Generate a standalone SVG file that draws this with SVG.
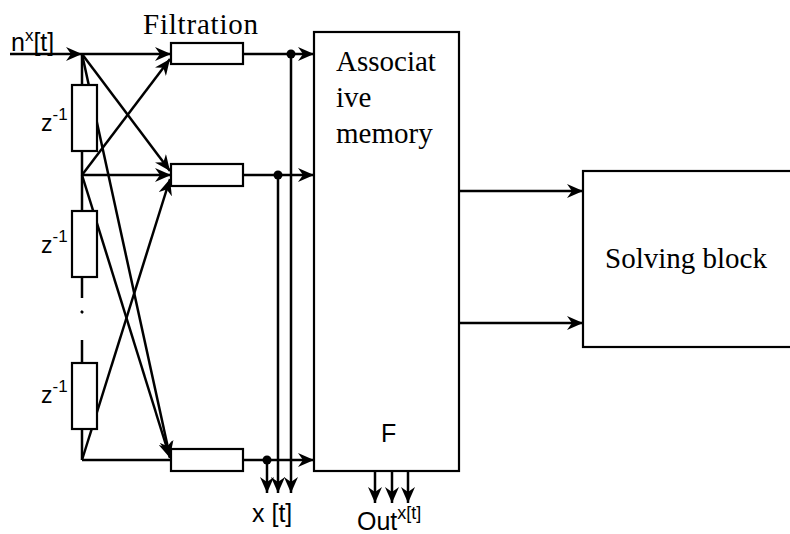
<svg xmlns="http://www.w3.org/2000/svg" width="790" height="534" viewBox="0 0 790 534">
<defs>
<marker id="ah" markerUnits="userSpaceOnUse" markerWidth="18" markerHeight="14" refX="16" refY="7" orient="auto" viewBox="0 0 18 14">
<path d="M0,0 L16,7 L0,14 L5,7 z" fill="#000"/>
</marker>
<style>
.ln{stroke:#000;stroke-width:2.5;fill:none}
.ar{stroke:#000;stroke-width:2.5;fill:none;marker-end:url(#ah)}
.bx{stroke:#000;stroke-width:2.2;fill:#fff}
.serif{font-family:"Liberation Serif","Times New Roman",serif;fill:#000}
.sans{font-family:"Liberation Sans",Arial,sans-serif;fill:#000}
</style>
</defs>
<rect width="790" height="534" fill="#fff"/>
<g id="connectors">
<line class="ar" x1="10" y1="54" x2="82" y2="54"/>
<line class="ln" x1="82" y1="54" x2="82" y2="298"/>
<line class="ln" x1="82" y1="340" x2="82" y2="460"/>
<line class="ln" x1="81" y1="311" x2="83" y2="313"/>
<line class="ar" x1="82" y1="54" x2="171" y2="54"/>
<line class="ar" x1="82" y1="54" x2="170" y2="171"/>
<line class="ar" x1="82" y1="54" x2="170" y2="457"/>
<line class="ar" x1="82" y1="175" x2="170" y2="59"/>
<line class="ar" x1="82" y1="175" x2="171" y2="175"/>
<line class="ar" x1="82" y1="175" x2="170" y2="458"/>
<line class="ar" x1="82" y1="460" x2="170" y2="179"/>
<line class="ln" x1="82" y1="460" x2="171" y2="460"/>
<line class="ar" x1="243" y1="54" x2="314" y2="54"/>
<line class="ar" x1="243" y1="175" x2="314" y2="175"/>
<line class="ar" x1="243" y1="460" x2="314" y2="460"/>
<line class="ar" x1="291" y1="54" x2="291" y2="493"/>
<line class="ar" x1="278" y1="175" x2="278" y2="493"/>
<line class="ar" x1="267" y1="460" x2="267" y2="493"/>
<circle cx="291" cy="54" r="4.5" fill="#000"/>
<circle cx="278" cy="175" r="4.5" fill="#000"/>
<circle cx="267" cy="460" r="4.5" fill="#000"/>
<line class="ar" x1="459" y1="191" x2="583" y2="191"/>
<line class="ar" x1="459" y1="323" x2="583" y2="323"/>
<line class="ar" x1="375" y1="471" x2="375" y2="503"/>
<line class="ar" x1="392" y1="471" x2="392" y2="503"/>
<line class="ar" x1="408" y1="471" x2="408" y2="503"/>
</g>
<g id="delay1"><rect class="bx" x="72" y="85" width="25" height="66"/>
<text class="sans" x="41" y="131" font-size="23">z<tspan font-size="17" dy="-11">-1</tspan></text></g>
<g id="delay2"><rect class="bx" x="72" y="211" width="25" height="66"/>
<text class="sans" x="41" y="253" font-size="23">z<tspan font-size="17" dy="-11">-1</tspan></text></g>
<g id="delay3"><rect class="bx" x="72" y="363" width="25" height="66"/>
<text class="sans" x="41" y="403" font-size="23">z<tspan font-size="17" dy="-11">-1</tspan></text></g>
<g id="input"><text class="sans" x="11" y="51" font-size="25">n<tspan font-size="17" dy="-10">x</tspan><tspan dy="10">[t]</tspan></text></g>
<g id="filter1"><rect class="bx" x="171" y="43" width="72" height="21"/></g>
<g id="filter2"><rect class="bx" x="171" y="164" width="72" height="22"/></g>
<g id="filter3"><rect class="bx" x="171" y="449" width="72" height="22"/></g>
<g id="filtration-label"><text class="serif" x="143" y="34" font-size="29" textLength="115">Filtration</text></g>
<g id="memory"><rect class="bx" x="314" y="32" width="145" height="439"/>
<text class="serif" x="336" y="71" font-size="29">Associat</text>
<text class="serif" x="336" y="107" font-size="29">ive</text>
<text class="serif" x="336" y="143" font-size="29">memory</text>
<text class="sans" x="381" y="442" font-size="25">F</text></g>
<g id="solving"><rect class="bx" x="583" y="171" width="215" height="176"/>
<text class="serif" x="605" y="268" font-size="29">Solving block</text></g>
<g id="xt-label"><text class="sans" x="252" y="522" font-size="25">x [t]</text></g>
<g id="out-label"><text class="sans" x="357" y="530" font-size="25">Out<tspan font-size="18" dy="-11">x[t]</tspan></text></g>
</svg>
